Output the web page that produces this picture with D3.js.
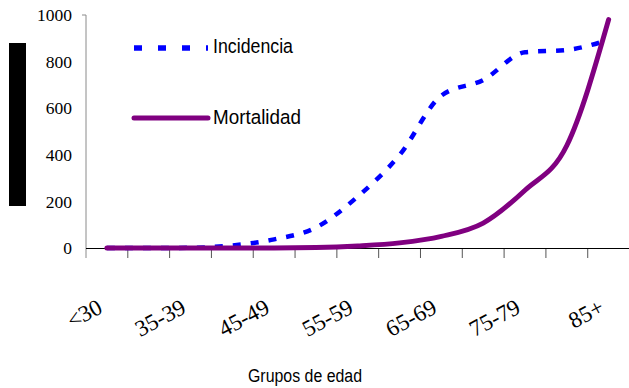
<!DOCTYPE html>
<html>
<head>
<meta charset="utf-8">
<script src="https://cdn.jsdelivr.net/npm/d3@7"></script>
<style>
  html, body { margin: 0; padding: 0; background: #fff; }
  svg { display: block; }
  .serif { font-family: "Liberation Serif", "Times New Roman", serif; }
  .sans { font-family: "Liberation Sans", Arial, sans-serif; }
</style>
</head>
<body>
<script>
// Age groups on the x axis
const categories = ["<30", "30-34", "35-39", "40-44", "45-49", "50-54", "55-59",
                    "60-64", "65-69", "70-74", "75-79", "80-84", "85+"];
// Rates per age group
const incidencia = [0, 0, 1, 11, 37, 88, 221, 399, 654, 721, 840, 850, 893];
const mortalidad = [0, 0, 0, 0, 0, 2, 9, 22, 50, 107, 248, 440, 980];
// Axis ticks and the labels that are printed under the x axis
const yTicks = [0, 200, 400, 600, 800, 1000];
const shownLabels = ["<30", "35-39", "45-49", "55-59", "65-69", "75-79", "85+"];
const seriesNames = ["Incidencia", "Mortalidad"];
const xTitle = "Grupos de edad";

const W = 629, H = 388;
const svg = d3.select("body").append("svg")
  .attr("width", W).attr("height", H);

const step = 41.81;
const x = d3.scaleBand().domain(categories).range([86, 86 + categories.length * step]);
const y = d3.scaleLinear().domain([0, 1000]).range([248, 15]);
const cx = c => x(c) + x.bandwidth() / 2;

// Block where the y-axis title sits
svg.append("rect")
  .attr("x", 9).attr("y", 43).attr("width", 17).attr("height", 163)
  .attr("fill", "#000");

// Y axis
const yAxis = svg.append("g")
  .attr("transform", "translate(86,0)")
  .call(d3.axisLeft(y).tickValues(yTicks).tickFormat(d3.format("d"))
    .tickSize(0).tickPadding(14));
yAxis.attr("font-family", null).attr("font-size", null);
yAxis.select(".domain").remove();
yAxis.selectAll(".tick text")
  .attr("class", "serif")
  .style("font-size", "17.5px")
  .attr("fill", "#000");
svg.append("path")
  .attr("d", `M82,${y(1000)}H86V258`)
  .attr("fill", "none").attr("stroke", "#8a8a8a").attr("stroke-width", 1);

// X axis: labels from the band scale, tick marks on band boundaries
const xAxis = svg.append("g")
  .attr("transform", "translate(0,248)")
  .call(d3.axisBottom(x).tickSize(0)
    .tickFormat(d => shownLabels.includes(d) ? d : ""));
xAxis.attr("font-family", null).attr("font-size", null);
xAxis.select(".domain").remove();
xAxis.selectAll(".tick text")
  .attr("class", "serif")
  .attr("y", null).attr("dy", null)
  .attr("text-anchor", "end")
  .attr("transform", "translate(-3,64) rotate(-28)")
  .style("font-size", "23px")
  .attr("fill", "#000");

const boundaries = categories.map(c => x(c)).concat([x.range()[1]]);
svg.append("g").selectAll("line").data(boundaries.slice(1)).join("line")
  .attr("x1", d => d).attr("x2", d => d)
  .attr("y1", 248).attr("y2", 258)
  .attr("stroke", "#555").attr("stroke-width", 1);
svg.append("line")
  .attr("x1", 86).attr("x2", x.range()[1])
  .attr("y1", 248.5).attr("y2", 248.5)
  .attr("stroke", "#000").attr("stroke-width", 1);

// Series lines
const line = d3.line()
  .x((d, i) => cx(categories[i]))
  .y(d => y(d))
  .curve(d3.curveMonotoneX);

svg.append("path")
  .datum(incidencia)
  .attr("d", line)
  .attr("fill", "none")
  .attr("stroke", "#0000ff")
  .attr("stroke-width", 4.5)
  .attr("stroke-dasharray", "8,10");

svg.append("path")
  .datum(mortalidad)
  .attr("d", line)
  .attr("fill", "none")
  .attr("stroke", "#800080")
  .attr("stroke-width", 5)
  .attr("stroke-linecap", "round")
  .attr("stroke-linejoin", "round");

// Legend
svg.append("line")
  .attr("x1", 134).attr("x2", 208).attr("y1", 48).attr("y2", 48)
  .attr("stroke", "#0000ff").attr("stroke-width", 5.5)
  .attr("stroke-dasharray", "8,16");
svg.append("text")
  .attr("class", "sans")
  .attr("x", 213).attr("y", 52.5)
  .style("font-size", "20.5px")
  .attr("textLength", 80).attr("lengthAdjust", "spacingAndGlyphs")
  .text(seriesNames[0]);

svg.append("line")
  .attr("x1", 134).attr("x2", 208).attr("y1", 118).attr("y2", 118)
  .attr("stroke", "#800080").attr("stroke-width", 5)
  .attr("stroke-linecap", "round");
svg.append("text")
  .attr("class", "sans")
  .attr("x", 213).attr("y", 124)
  .style("font-size", "20.5px")
  .attr("textLength", 88).attr("lengthAdjust", "spacingAndGlyphs")
  .text(seriesNames[1]);

// X-axis title
svg.append("text")
  .attr("class", "sans")
  .attr("x", 248).attr("y", 381.5)
  .style("font-size", "18px")
  .attr("textLength", 114).attr("lengthAdjust", "spacingAndGlyphs")
  .text(xTitle);
</script>
</body>
</html>
